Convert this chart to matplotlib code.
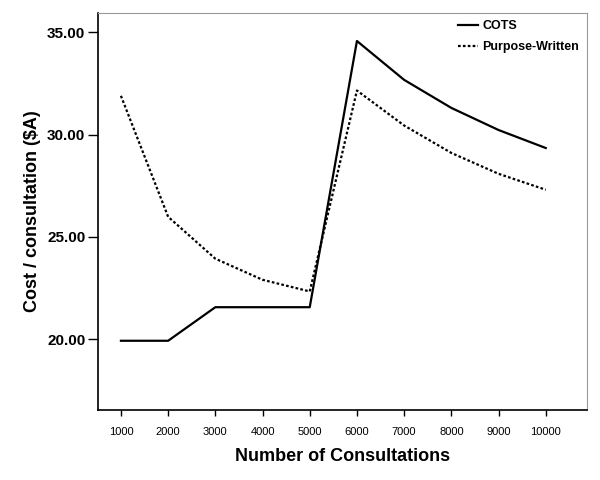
import matplotlib
matplotlib.use('Agg')
import matplotlib.pyplot as plt

consultations = [1000, 2000, 3000, 4000, 5000, 6000, 7000, 8000, 9000, 10000]
cots = [19.92, 19.92, 21.56, 21.56, 21.56, 34.57, 32.67, 31.30, 30.22, 29.34]
purpose_written = [31.89, 25.98, 23.93, 22.90, 22.33, 32.15, 30.44, 29.10, 28.08, 27.30]
y_ticks = [20, 25, 30, 35]

plt.rcParams['font.family'] = ['Liberation Sans', 'DejaVu Sans']

fig = plt.figure(figsize=(6, 4.8), dpi=100)
ax = fig.add_axes([0.163, 0.146, 0.815, 0.827])

ax.plot(consultations, cots, color='black', linewidth=1.6, label='COTS')
ax.plot(consultations, purpose_written, color='black', linewidth=1.6,
        linestyle=(0, (1.2, 1.0)), label='Purpose-Written')

ax.set_xlim(510, 10870)
ax.set_ylim(16.54, 35.94)
ax.set_xticks(consultations)
ax.set_xticklabels([str(c) for c in consultations], fontsize=8)
ax.set_yticks(y_ticks)
ax.set_yticklabels([f'{v:.2f}' for v in y_ticks], fontsize=11, fontweight='bold')
ax.tick_params(axis='x', direction='out', length=4, width=1, pad=8)
ax.tick_params(axis='y', direction='out', length=7, width=1, pad=2)

ax.set_xlabel('Number of Consultations', fontsize=13, fontweight='bold', labelpad=8)
ax.set_ylabel('Cost / consultation ($A)', fontsize=13, fontweight='bold', labelpad=4)

for side in ['top', 'right']:
    ax.spines[side].set_color('#999999')
for side in ['left', 'bottom']:
    ax.spines[side].set_color('black')
    ax.spines[side].set_linewidth(1.2)

leg = ax.legend(loc='upper right', frameon=False, handlelength=1.6,
                prop={'size': 9, 'weight': 'bold'}, borderaxespad=0.2,
                labelspacing=0.7, handletextpad=0.4)

plt.savefig('out.png', dpi=100)
plt.close()
